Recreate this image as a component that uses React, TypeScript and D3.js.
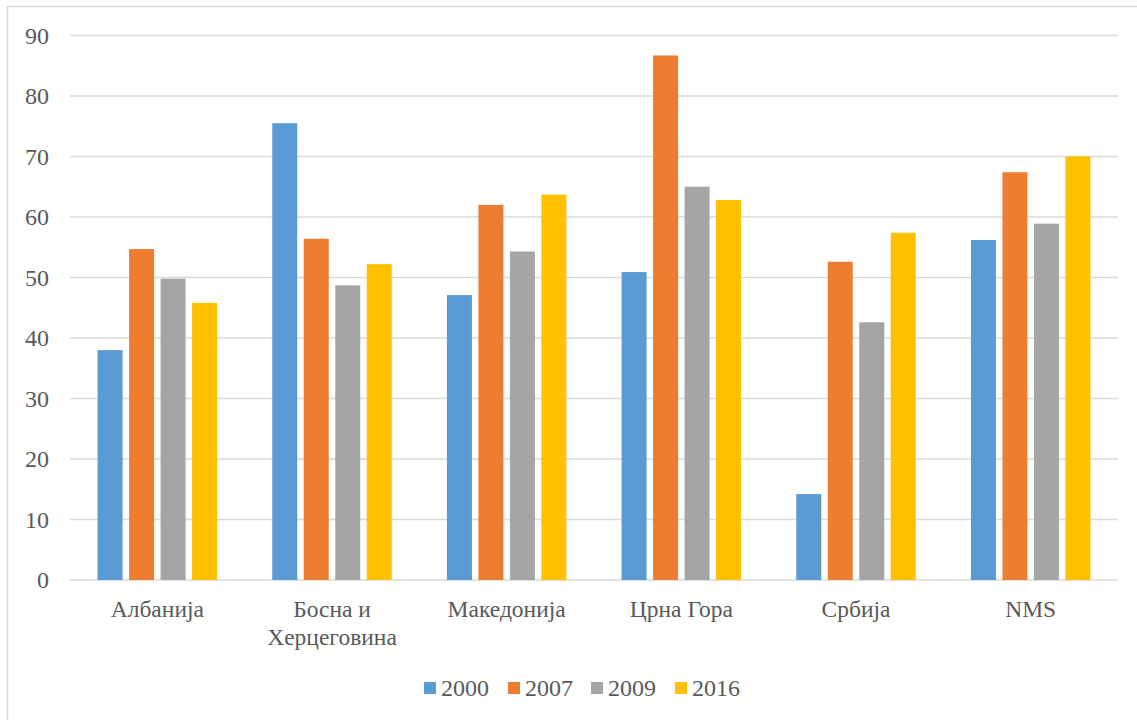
import React from "react";
import * as d3 from "d3";

const categories = ["Албанија", "Босна и\nХерцеговина", "Македонија", "Црна Гора", "Србија", "NMS"];
const seriesNames = ["2000", "2007", "2009", "2016"];
const values2000 = [38.0, 75.5, 47.1, 50.9, 14.2, 56.2];
const values2007 = [54.7, 56.4, 62.0, 86.7, 52.6, 67.4];
const values2009 = [49.8, 48.7, 54.3, 65.0, 42.6, 58.9];
const values2016 = [45.8, 52.2, 63.7, 62.8, 57.4, 70.0];
const yTicks = [0, 10, 20, 30, 40, 50, 60, 70, 80, 90];
const colors = ["#5B9BD5", "#ED7D31", "#A5A5A5", "#FFC000"];

const seriesValues = [values2000, values2007, values2009, values2016];

export default function App() {
  const W = 1137, H = 720;
  const left = 70, right = 1118, top = 35.5, bottom = 580;
  const x = d3.scaleBand<string>().domain(categories).range([left, right]).padding(0);
  const inner = d3
    .scaleBand<string>()
    .domain(seriesNames)
    .range([0, x.bandwidth()])
    .paddingInner(0.206)
    .paddingOuter(0.876);
  const y = d3.scaleLinear().domain([0, 90]).range([bottom, top]);
  const font = "'Liberation Serif', 'Times New Roman', serif";
  const textColor = "#595959";

  const legendX = [424, 508, 591, 675];

  return (
    <svg
      width={W}
      height={H}
      style={{ position: "absolute", left: 0, top: 0, background: "#fff" }}
    >
      <rect x={7.5} y={6.5} width={1140} height={730} fill="#fff" stroke="#d9d9d9" strokeWidth={1.5} />
      {yTicks.map((t) => (
        <g key={t}>
          <line x1={left} x2={right} y1={y(t)} y2={y(t)} stroke="#d9d9d9" strokeWidth={1.5} />
          <text
            x={49}
            y={y(t)}
            dy="0.35em"
            textAnchor="end"
            fontFamily={font}
            fontSize={24}
            fill={textColor}
          >
            {t}
          </text>
        </g>
      ))}
      {seriesNames.map((s, si) =>
        categories.map((c, ci) => {
          const v = seriesValues[si][ci];
          return (
            <rect
              key={s + c}
              x={(x(c) as number) + (inner(s) as number)}
              y={y(v)}
              width={inner.bandwidth()}
              height={y(0) - y(v)}
              fill={colors[si]}
            />
          );
        })
      )}
      {categories.map((c) => {
        const lines = c.split("\n");
        const cx = (x(c) as number) + x.bandwidth() / 2;
        return (
          <text key={c} x={cx} y={617} textAnchor="middle" fontFamily={font} fontSize={23.5} fill={textColor}>
            {lines.map((l, i) => (
              <tspan key={i} x={cx} dy={i === 0 ? 0 : 28}>
                {l}
              </tspan>
            ))}
          </text>
        );
      })}
      {seriesNames.map((s, si) => (
        <g key={s}>
          <rect x={legendX[si]} y={682} width={12} height={12} fill={colors[si]} />
          <text x={legendX[si] + 17} y={696} fontFamily={font} fontSize={24} fill={textColor}>
            {s}
          </text>
        </g>
      ))}
    </svg>
  );
}
